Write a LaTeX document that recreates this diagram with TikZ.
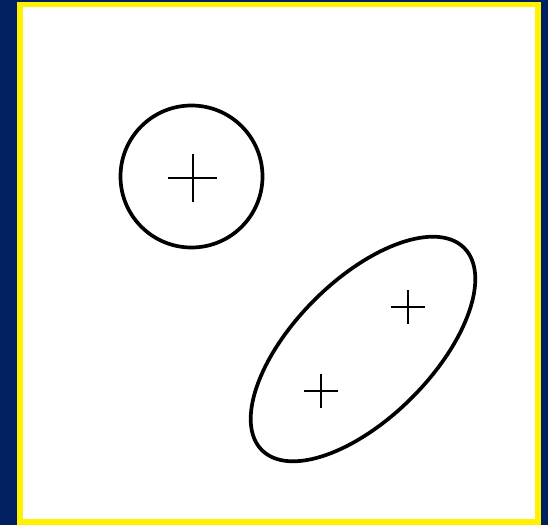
\documentclass[tikz,border=0pt]{standalone}
\definecolor{marine}{RGB}{0,32,96}
\begin{document}
\begin{tikzpicture}[x=0.02cm,y=-0.02cm,
    kontur/.style={line width=2.1pt},
    kryss/.style={line width=0.85pt}]
  % Bakgrunn og ramme
  \fill[marine] (0,0) rectangle (548,525);
  \fill[yellow] (17,2) rectangle (541,525);
  \fill[white] (23,7) rectangle (535,519);
  % Sirkel
  \coordinate (S) at (191.5,176.5);
  \draw[kontur] (S) circle (71);
  \draw[kryss] (168,178) -- (217,178);
  \draw[kryss] (193,154) -- (193,202);
  % Ellipse
  \coordinate (E) at (363,349);
  \draw[kontur,rotate around={45:(E)}] (E) ellipse (143 and 69);
  \foreach \x/\y in {408/307,321/391}{
    \draw[kryss] (\x-17,\y) -- (\x+17,\y);
    \draw[kryss] (\x,\y-17) -- (\x,\y+17);
  }
\end{tikzpicture}
\end{document}
